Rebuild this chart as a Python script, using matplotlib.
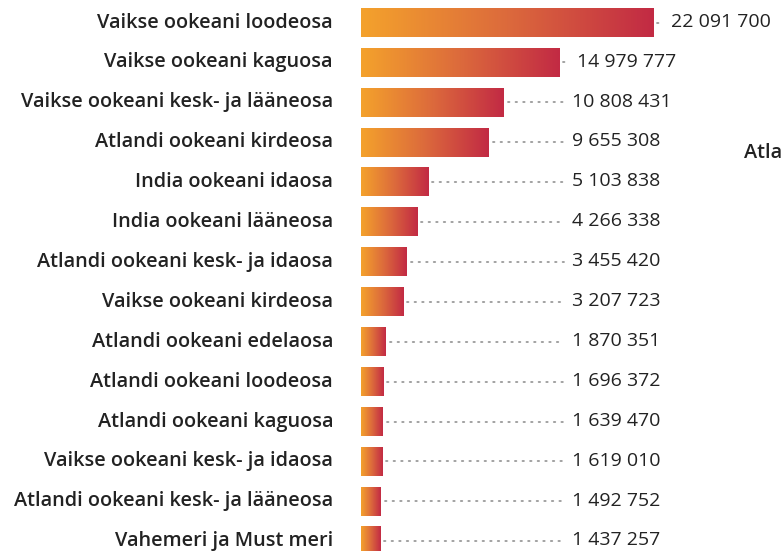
import numpy as np
import matplotlib
matplotlib.use("Agg")
import matplotlib.pyplot as plt
from matplotlib.colors import LinearSegmentedColormap

# data
regions = [
    "Vaikse ookeani loodeosa",
    "Vaikse ookeani kaguosa",
    "Vaikse ookeani kesk- ja lääneosa",
    "Atlandi ookeani kirdeosa",
    "India ookeani idaosa",
    "India ookeani lääneosa",
    "Atlandi ookeani kesk- ja idaosa",
    "Vaikse ookeani kirdeosa",
    "Atlandi ookeani edelaosa",
    "Atlandi ookeani loodeosa",
    "Atlandi ookeani kaguosa",
    "Vaikse ookeani kesk- ja idaosa",
    "Atlandi ookeani kesk- ja lääneosa",
    "Vahemeri ja Must meri",
]
catch = [22091700, 14979777, 10808431, 9655308, 5103838, 4266338, 3455420,
         3207723, 1870351, 1696372, 1639470, 1619010, 1492752, 1437257]

W, H = 783, 551
fig = plt.figure(figsize=(W / 100, H / 100), dpi=100)
fig.patch.set_facecolor("white")

# axes starts where bars start, px per million ~13.22
ax = fig.add_axes([361 / W, 0, (W - 361) / W, 1])
ax.set_xlim(0, 31.92e6)
ax.set_ylim(13.245, -0.564)
ax.axis("off")

cmap = LinearSegmentedColormap.from_list("oc", ["#f4a22c", "#dc6a3c", "#c22a44"])
grad = np.linspace(0, 1, 256).reshape(1, -1)
px = 31.92e6 / (W - 361)  # data units per pixel

txt_min = 572 - 361
for i, v in enumerate(catch):
    ax.imshow(grad, extent=[0, v, i + 0.36, i - 0.36], aspect="auto",
              cmap=cmap, interpolation="bicubic", zorder=2)
    tx = max(txt_min * px, v + 18 * px)
    ax.plot([v + 4 * px, tx - 8 * px], [i, i], color="#9a9a9a", lw=1.3,
            ls=(0, (0.8, 3.4)), dash_capstyle="round", zorder=1)
    ax.text(tx, i - 0.02, f"{v:,}".replace(",", " "), va="center", ha="left",
            fontsize=14, color="#222222", family="Open Sans")
    ax.text(-28 * px, i, regions[i], va="center", ha="right",
            fontsize=14.3, color="#222222", family="Open Sans",
            fontweight="semibold", clip_on=False)

ax.set_xlim(0, 31.92e6)
ax.set_ylim(13.245, -0.564)

# piece of the neighbouring chart cut off at the edge
fig.text(782 / W, 1 - 153 / H, "Atla", fontsize=14.3, color="#222222",
         family="Open Sans", fontweight="semibold", va="center", ha="right")

fig.savefig("out.png", dpi=100)
